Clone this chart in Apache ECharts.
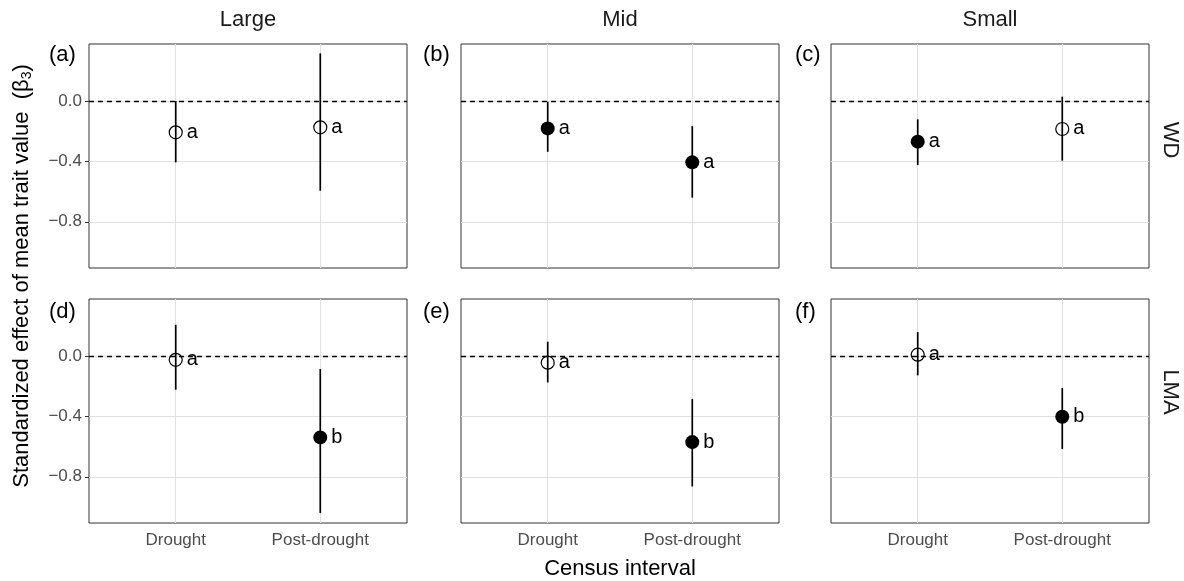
<!DOCTYPE html>
<html>
<head>
    <meta charset="utf-8">
    <title>Standardized effect of mean trait value</title>
    <style>
        * { margin: 0; padding: 0; }
        #main { width: 1184px; height: 581px; }
    </style>
    <script src="https://cdn.jsdelivr.net/npm/echarts@6/dist/echarts.min.js"></script>
</head>
<body>
<div id="main"></div>
<script type="text/javascript">
    // facets
    const sizeClasses = ['Large', 'Mid', 'Small'];
    const traits = ['WD', 'LMA'];
    const panelTags = ['(a)', '(b)', '(c)', '(d)', '(e)', '(f)'];
    const intervals = ['Drought', 'Post-drought'];
    const yTicks = [-0.8, -0.4, 0.0];

    // one row per panel (a..f), values for [Drought, Post-drought]
    const estimate = [
        [-0.207, -0.174],
        [-0.181, -0.406],
        [-0.269, -0.185],
        [-0.025, -0.539],
        [-0.044, -0.570],
        [0.009, -0.402]
    ];
    const lower = [
        [-0.406, -0.594],
        [-0.336, -0.640],
        [-0.424, -0.395],
        [-0.223, -1.040],
        [-0.175, -0.864],
        [-0.128, -0.616]
    ];
    const upper = [
        [0.000, 0.316],
        [-0.004, -0.166],
        [-0.121, 0.029],
        [0.207, -0.086],
        [0.095, -0.285],
        [0.159, -0.212]
    ];
    // filled point = significant
    const significant = [
        [false, false],
        [true, true],
        [true, false],
        [false, true],
        [false, true],
        [false, true]
    ];
    const letters = [
        ['a', 'a'],
        ['a', 'a'],
        ['a', 'a'],
        ['a', 'b'],
        ['a', 'b'],
        ['a', 'b']
    ];

    const FONT = "'Liberation Sans', Arial, sans-serif";
    const colLeft = [89, 461, 831];
    const rowTop = [44, 299];
    const panelW = 318;
    const panelH = 224;

    const chart = echarts.init(document.getElementById('main'));

    const grids = [], xAxes = [], yAxes = [], series = [];

    for (let p = 0; p < 6; p++) {
        const row = Math.floor(p / 3), col = p % 3;
        grids.push({
            left: colLeft[col], top: rowTop[row], width: panelW, height: panelH,
            show: true, borderColor: '#333', borderWidth: 1, backgroundColor: '#fff'
        });
        xAxes.push({
            type: 'value', gridIndex: p, min: 0.4, max: 2.6,
            axisLine: { show: false },
            splitLine: { show: false },
            axisTick: {
                show: row === 1, customValues: [1, 2], length: 4,
                lineStyle: { color: '#333' }
            },
            axisLabel: {
                show: row === 1, customValues: [1, 2], margin: 9,
                fontFamily: FONT, fontSize: 17, color: '#4d4d4d',
                formatter: v => intervals[Math.round(v) - 1]
            }
        });
        yAxes.push({
            type: 'value', gridIndex: p, min: -1.106, max: 0.378,
            axisLine: { show: false },
            splitLine: { show: false },
            axisTick: {
                show: col === 0, customValues: yTicks, length: 4,
                lineStyle: { color: '#333' }
            },
            axisLabel: {
                show: col === 0, customValues: yTicks, margin: 7,
                fontFamily: FONT, fontSize: 17, color: '#4d4d4d',
                formatter: v => v.toFixed(1).replace('-', '\u2212')
            }
        });

        // error bars
        series.push({
            type: 'custom', xAxisIndex: p, yAxisIndex: p, z: 3, silent: true,
            data: intervals.map((c, i) => [i + 1, lower[p][i], upper[p][i]]),
            renderItem: function (params, api) {
                const a = api.coord([api.value(0), api.value(1)]);
                const b = api.coord([api.value(0), api.value(2)]);
                return {
                    type: 'line',
                    shape: { x1: a[0], y1: a[1], x2: b[0], y2: b[1] },
                    style: { stroke: '#000', lineWidth: 1.7 }
                };
            }
        });

        // points + letters, plus grid lines and zero line
        series.push({
            type: 'scatter', xAxisIndex: p, yAxisIndex: p, z: 4, silent: true,
            data: intervals.map((c, i) => ({
                value: [i + 1, estimate[p][i]],
                symbolSize: significant[p][i] ? 14 : 13,
                itemStyle: significant[p][i]
                    ? { color: '#000', opacity: 1 }
                    : { color: 'rgba(0,0,0,0)', borderColor: '#000', borderWidth: 1.2, opacity: 1 },
                label: {
                    show: true, position: 'right', distance: 4,
                    formatter: letters[p][i],
                    fontFamily: FONT, fontSize: 20, color: '#000'
                }
            })),
            markLine: {
                silent: true, symbol: 'none', z: 1,
                label: { show: false },
                lineStyle: { color: '#e0e0e0', width: 1, type: 'solid' },
                data: intervals.map((c, i) => ({ xAxis: i + 1 }))
                    .concat(yTicks.map(v => ({ yAxis: v })))
                    .concat([{
                        yAxis: 0,
                        lineStyle: { color: '#000', width: 1.4, type: [5, 4] }
                    }])
            }
        });
    }

    const graphics = [];
    sizeClasses.forEach((s, c) => {
        graphics.push({
            type: 'text', x: colLeft[c] + panelW / 2, y: 20,
            style: { text: s, font: '22px ' + FONT, fill: '#1a1a1a', align: 'center', verticalAlign: 'middle' }
        });
    });
    const rowLabelY = [140, 392];
    traits.forEach((t, r) => {
        graphics.push({
            type: 'text', x: 1170, y: rowLabelY[r], rotation: -Math.PI / 2,
            style: { text: t, font: '22px ' + FONT, fill: '#1a1a1a', align: 'center', verticalAlign: 'middle' }
        });
    });
    const tagX = [49, 423, 795];
    const tagY = [55, 312];
    panelTags.forEach((t, p) => {
        graphics.push({
            type: 'text', x: tagX[p % 3], y: tagY[Math.floor(p / 3)],
            style: { text: t, font: '22px ' + FONT, fill: '#000', align: 'left', verticalAlign: 'middle' }
        });
    });
    graphics.push({
        type: 'text', x: 620, y: 569,
        style: { text: 'Census interval', font: '22px ' + FONT, fill: '#000', align: 'center', verticalAlign: 'middle' }
    });
    graphics.push({
        type: 'text', x: 22, y: 276, rotation: Math.PI / 2,
        style: {
            text: 'Standardized effect of mean trait value  (β{sub|3})',
            font: '22px ' + FONT, fill: '#000', align: 'center', verticalAlign: 'middle',
            rich: { sub: { fontFamily: FONT, fontSize: 14, padding: [10, 0, 0, 0] } }
        }
    });

    chart.setOption({
        animation: false,
        backgroundColor: '#fff',
        grid: grids,
        xAxis: xAxes,
        yAxis: yAxes,
        series: series,
        graphic: graphics
    });
</script>
</body>
</html>
